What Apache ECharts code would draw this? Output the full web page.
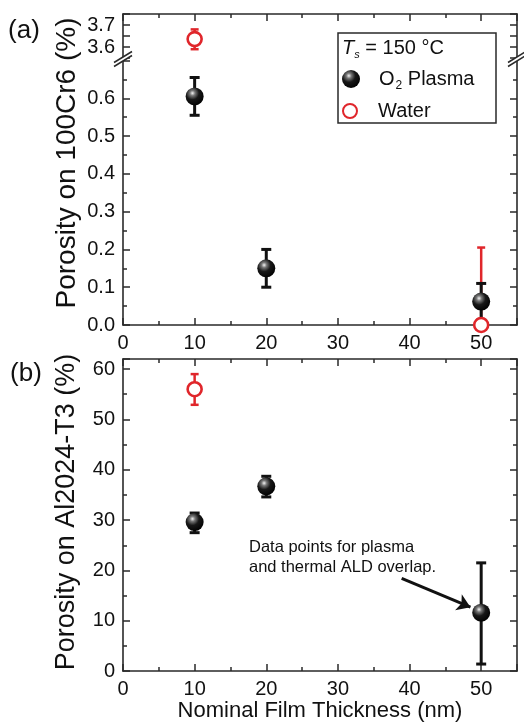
<!DOCTYPE html>
<html>
<head>
<meta charset="utf-8">
<script src="https://cdn.jsdelivr.net/npm/echarts@6/dist/echarts.min.js"></script>
<style>
  html, body { margin: 0; padding: 0; background: #fff; }
  #chart { width: 524px; height: 723px; }
</style>
</head>
<body>
<div id="chart"></div>
<script>
// nominal film thickness (nm)
const thickness = [10, 20, 50];

// (a) porosity on 100Cr6 (%)
const plasmaSteel = [0.605, 0.15, 0.062];
const plasmaSteelLow = [0.555, 0.10, 0.013];
const plasmaSteelHigh = [0.655, 0.20, 0.11];
const waterSteelX = [10, 50];
const waterSteel = [3.636, 0.0];
const waterSteelLow = [3.59, 0.0];
const waterSteelHigh = [3.68, 0.205];

// (b) porosity on Al2024-T3 (%)
const plasmaAl = [29.6, 36.7, 11.6];
const plasmaAlLow = [27.5, 34.6, 1.4];
const plasmaAlHigh = [31.4, 38.7, 21.5];
const waterAlX = [10];
const waterAl = [56.0];
const waterAlLow = [52.9];
const waterAlHigh = [59.0];

// tick labels
const xTicks = [0, 10, 20, 30, 40, 50];
const yTopTicks = [3.6, 3.7];
const yLowTicks = [0, 0.1, 0.2, 0.3, 0.4, 0.5, 0.6];
const yAlTicks = [0, 10, 20, 30, 40, 50, 60];

// arrow of the annotation, in data units of panel (b)
const arrowFrom = [38.9, 18.4];
const arrowTo = [48.5, 12.7];

const FONT = "'Liberation Sans', Arial, sans-serif";
const INK = '#2a2a2a';
const RED = '#e0262b';

function axis(grid, pos, min, max, interval, opts) {
  opts = opts || {};
  const a = {
    type: 'value',
    gridIndex: grid,
    position: pos,
    min: min,
    max: max,
    interval: interval,
    splitLine: { show: false },
    axisLine: { show: true, onZero: false, lineStyle: { color: INK, width: 1.6 } },
    axisTick: { show: true, inside: true, length: 7, lineStyle: { color: INK, width: 1.5 } },
    minorTick: { show: opts.minor !== false, splitNumber: 2, length: 4, lineStyle: { color: INK, width: 1.5 } },
    minorSplitLine: { show: false },
    axisLabel: opts.labels
      ? { show: true, customValues: opts.labels, margin: 8, fontSize: 20, color: '#111', fontFamily: FONT, formatter: opts.fmt }
      : { show: false }
  };
  if (opts.name) {
    a.name = opts.name;
    a.nameLocation = 'middle';
    a.nameGap = opts.nameGap;
    a.nameTextStyle = { fontSize: 22, color: '#111', fontFamily: FONT };
  }
  return a;
}

const fmt1 = v => v.toFixed(1);
const fmt0 = v => String(v);

const xAxes = [
  axis(0, 'top', 0, 55, 10),
  axis(1, 'bottom', 0, 55, 10, { labels: xTicks, fmt: fmt0 }),
  axis(2, 'bottom', 0, 55, 10, { labels: xTicks, fmt: fmt0, name: 'Nominal Film Thickness (nm)', nameGap: 24 }),
  axis(2, 'top', 0, 55, 10)
];

const yAxes = [
  axis(0, 'left', 3.55, 3.75, 0.05, { labels: yTopTicks, fmt: fmt1, minor: false }),
  axis(0, 'right', 3.55, 3.75, 0.05, { minor: false }),
  axis(1, 'left', 0, 0.7, 0.1, { labels: yLowTicks, fmt: fmt1 }),
  axis(1, 'right', 0, 0.7, 0.1),
  axis(2, 'left', 0, 62, 10, { labels: yAlTicks, fmt: fmt0 }),
  axis(2, 'right', 0, 62, 10)
];

// x/y axis indices used by the data of each grid
const AX = [[0, 0], [1, 2], [2, 4]];

function errorRender(color, lw, cap) {
  return function (params, api) {
    const x = api.value(0);
    const lo = api.coord([x, api.value(1)]);
    const hi = api.coord([x, api.value(2)]);
    const st = { stroke: color, lineWidth: lw };
    return {
      type: 'group',
      children: [
        { type: 'line', shape: { x1: lo[0], y1: lo[1], x2: hi[0], y2: hi[1] }, style: st },
        { type: 'line', shape: { x1: lo[0] - cap, y1: lo[1], x2: lo[0] + cap, y2: lo[1] }, style: st },
        { type: 'line', shape: { x1: hi[0] - cap, y1: hi[1], x2: hi[0] + cap, y2: hi[1] }, style: st }
      ]
    };
  };
}

function errSeries(grid, xs, lo, hi, color, lw, cap) {
  return {
    type: 'custom',
    name: 'err',
    xAxisIndex: AX[grid][0],
    yAxisIndex: AX[grid][1],
    renderItem: errorRender(color, lw, cap),
    encode: { x: 0, y: [1, 2] },
    data: xs.map((x, i) => [x, lo[i], hi[i]]),
    silent: true
  };
}

const sphere = new echarts.graphic.RadialGradient(0.38, 0.32, 0.72, [
  { offset: 0, color: '#f4f4f4' },
  { offset: 0.2, color: '#777' },
  { offset: 0.5, color: '#181818' },
  { offset: 1, color: '#000' }
]);

function plasmaSeries(grid, xs, ys, extra) {
  return Object.assign({
    type: 'scatter',
    name: 'O2 Plasma',
    xAxisIndex: AX[grid][0],
    yAxisIndex: AX[grid][1],
    symbol: 'circle',
    symbolSize: 18,
    itemStyle: { color: sphere, opacity: 1 },
    data: xs.map((x, i) => [x, ys[i]]),
    silent: true
  }, extra || {});
}

function waterSeries(grid, xs, ys) {
  return {
    type: 'scatter',
    name: 'Water',
    xAxisIndex: AX[grid][0],
    yAxisIndex: AX[grid][1],
    symbol: 'circle',
    symbolSize: 14,
    itemStyle: { color: '#fff', borderColor: RED, borderWidth: 2.6, opacity: 1 },
    data: xs.map((x, i) => [x, ys[i]]),
    silent: true
  };
}

// split the water points of panel (a) over the broken axis
const upIdx = waterSteelX.map((_, i) => i).filter(i => waterSteel[i] > 1);
const lowIdx = waterSteelX.map((_, i) => i).filter(i => waterSteel[i] <= 1);
const pick = (arr, idx) => idx.map(i => arr[i]);

const series = [
  errSeries(0, pick(waterSteelX, upIdx), pick(waterSteelLow, upIdx), pick(waterSteelHigh, upIdx), RED, 2.5, 4),
  waterSeries(0, pick(waterSteelX, upIdx), pick(waterSteel, upIdx)),
  errSeries(1, pick(waterSteelX, lowIdx), pick(waterSteelLow, lowIdx), pick(waterSteelHigh, lowIdx), RED, 2.5, 4),
  waterSeries(1, pick(waterSteelX, lowIdx), pick(waterSteel, lowIdx)),
  errSeries(1, thickness, plasmaSteelLow, plasmaSteelHigh, '#111', 3, 5),
  plasmaSeries(1, thickness, plasmaSteel),
  errSeries(2, waterAlX, waterAlLow, waterAlHigh, RED, 2.5, 4),
  waterSeries(2, waterAlX, waterAl),
  errSeries(2, thickness, plasmaAlLow, plasmaAlHigh, '#111', 3, 5),
  plasmaSeries(2, thickness, plasmaAl, {
    markLine: {
      silent: true,
      symbol: ['none', 'arrow'],
      symbolSize: 13,
      label: { show: false },
      lineStyle: { color: '#111', width: 3, type: 'solid' },
      data: [[{ coord: arrowFrom }, { coord: arrowTo }]]
    }
  })
];

function breakMark(cx, cy) {
  return [
    { type: 'polygon', shape: { points: [[cx - 8, cy + 3], [cx + 8, cy - 7], [cx + 8, cy - 3], [cx - 8, cy + 7]] }, style: { fill: '#fff' }, z: 100 },
    { type: 'line', shape: { x1: cx - 9, y1: cy + 3.5, x2: cx + 9, y2: cy - 7.5 }, style: { stroke: INK, lineWidth: 1.5 }, z: 101 },
    { type: 'line', shape: { x1: cx - 9, y1: cy + 7.5, x2: cx + 9, y2: cy - 3.5 }, style: { stroke: INK, lineWidth: 1.5 }, z: 101 }
  ];
}

const legendText = {
  fontSize: 20, color: '#111', fontFamily: FONT,
  rich: {
    n: { fontSize: 20, color: '#111', fontFamily: FONT },
    s: { fontSize: 12, color: '#111', fontFamily: FONT, padding: [14, 0, 0, 1] }
  }
};

const chart = echarts.init(document.getElementById('chart'));
chart.setOption({
  animation: false,
  backgroundColor: '#fff',
  textStyle: { fontFamily: FONT },
  grid: [
    { left: 123, width: 394, top: 14, height: 44 },
    { left: 123, width: 394, top: 60.5, height: 264.5 },
    { left: 123, width: 394, top: 359, height: 313 }
  ],
  xAxis: xAxes,
  yAxis: yAxes,
  legend: [
    {
      data: ['O2 Plasma'], left: 342, top: 69, padding: 0, orient: 'vertical',
      itemWidth: 46, itemHeight: 18, selectedMode: false,
      formatter: n => '{n|O}{s|2}{n| Plasma}', textStyle: legendText
    },
    {
      data: ['Water'], left: 342, top: 101, padding: 0, orient: 'vertical',
      itemWidth: 46, itemHeight: 14, selectedMode: false,
      formatter: n => '{n|' + n + '}', textStyle: legendText
    }
  ],
  graphic: [
    { type: 'rect', shape: { x: 338, y: 33, width: 158, height: 90 }, style: { fill: 'none', stroke: INK, lineWidth: 1.5 }, z: 50 },
    {
      type: 'text', x: 342, y: 48, z: 51,
      style: {
        text: '{t|T}{s|s}{n| = 150 °C}', verticalAlign: 'middle', fill: '#111',
        rich: {
          t: { fontSize: 20, fontStyle: 'italic', fontFamily: FONT, fill: '#111' },
          s: { fontSize: 11, fontStyle: 'italic', fontFamily: FONT, fill: '#111', padding: [14, 0, 0, 0] },
          n: { fontSize: 20, fontFamily: FONT, fill: '#111' }
        }
      }
    },
    { type: 'text', x: 24, y: 31, style: { text: '(a)', fontSize: 26, fontFamily: FONT, fill: '#111', align: 'center', verticalAlign: 'middle' } },
    { type: 'text', x: 26, y: 374, style: { text: '(b)', fontSize: 26, fontFamily: FONT, fill: '#111', align: 'center', verticalAlign: 'middle' } },
    { type: 'text', x: 67, y: 163, rotation: Math.PI / 2, style: { text: 'Porosity on 100Cr6 (%)', fontSize: 28, fontFamily: FONT, fill: '#111', align: 'center', verticalAlign: 'middle' } },
    { type: 'text', x: 67, y: 512, rotation: Math.PI / 2, style: { text: 'Porosity on Al2024-T3 (%)', fontSize: 27, fontFamily: FONT, fill: '#111', align: 'center', verticalAlign: 'middle' } },
    {
      type: 'text', x: 249, y: 537,
      style: { text: 'Data points for plasma\nand thermal ALD overlap.', fontSize: 16.5, lineHeight: 20, fontFamily: FONT, fill: '#111', align: 'left', verticalAlign: 'top' }
    }
  ].concat(breakMark(123, 59), breakMark(517, 59)),
  series: series
});
</script>
</body>
</html>
